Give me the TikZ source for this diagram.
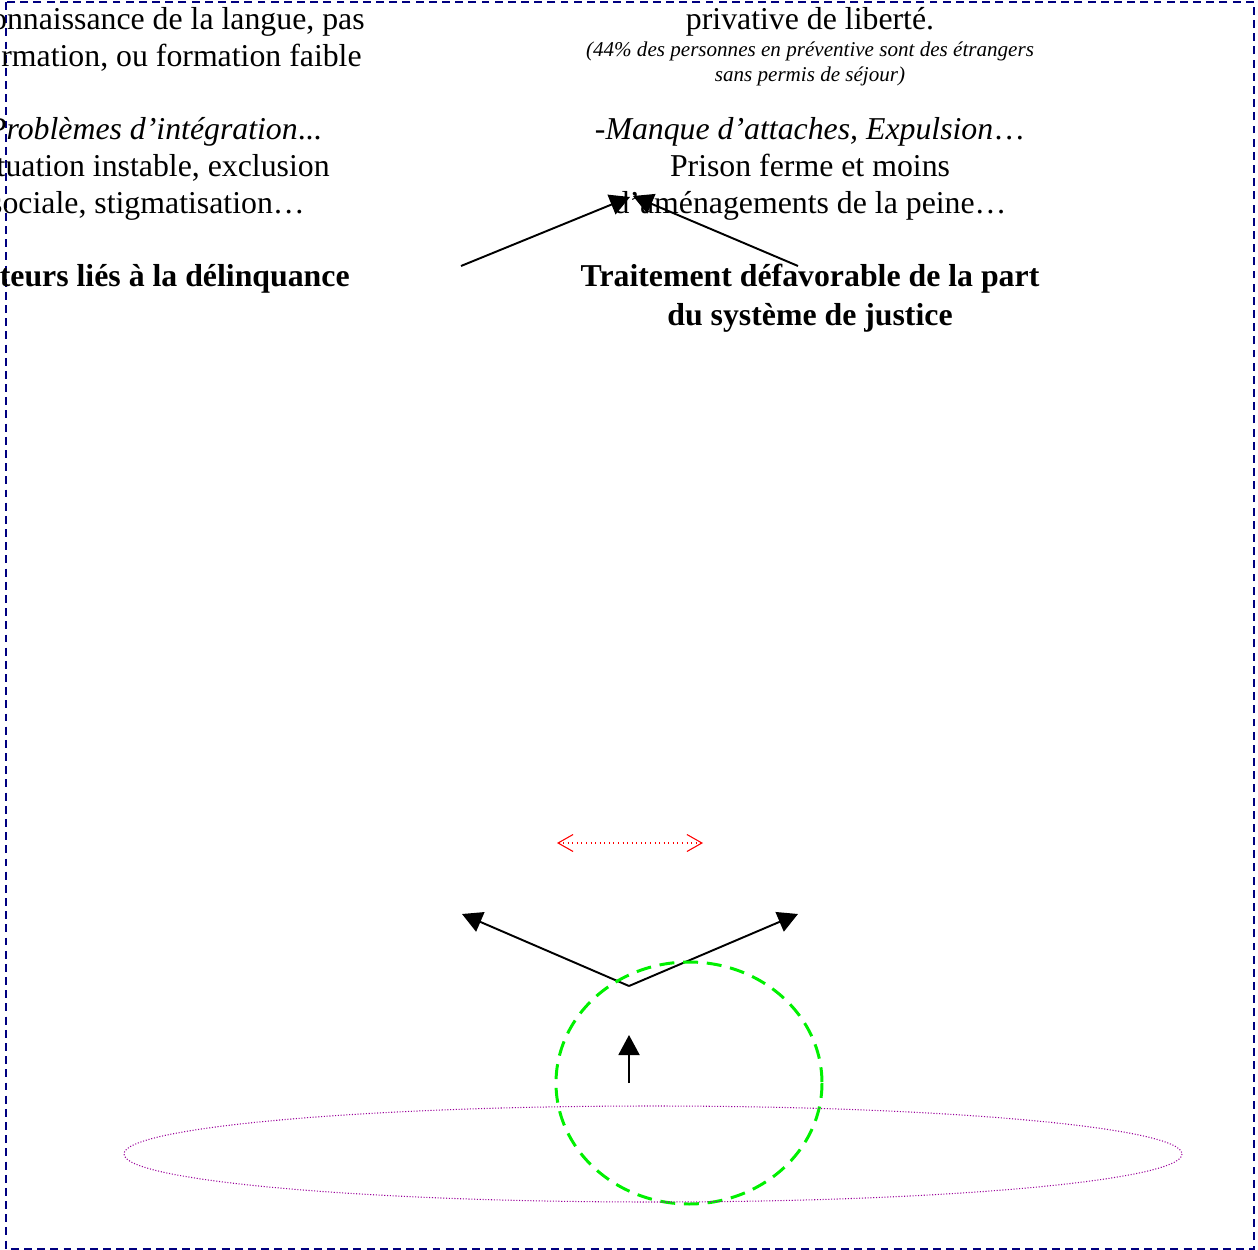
\documentclass[tikz,border=0pt]{standalone}
\usepackage{fontspec}
\setmainfont{Liberation Serif}
\usetikzlibrary{arrows.meta, positioning}
\definecolor{BorderBlue}{RGB}{0,0,128}
\definecolor{RingGreen}{RGB}{0,240,0}
\definecolor{DotPurple}{RGB}{153,0,153}
\definecolor{DotRed}{RGB}{255,0,0}

\begin{document}
\begin{tikzpicture}[x=0.02cm, y=-0.02cm,
	txt/.style={font=\fontsize{18.1}{21}\selectfont, inner sep=0pt, anchor=base},
	txtl/.style={txt, anchor=base east},
	small/.style={font=\fontsize{12}{14}\selectfont\itshape, inner sep=0pt, anchor=base},
	link/.style={line width=1.1pt, -{Triangle[length=4mm,width=4.2mm]}}]
	\useasboundingbox (0,0) rectangle (1258,1250);
	\clip (0,0) rectangle (1258,1250);
	\draw[BorderBlue, line width=1pt, dash pattern=on 4.5pt off 3pt] (6,2) rectangle (1254,1249);

	% left column, cut at the edge
	\node[txtl] (lang) at (365,30) {onnaissance de la langue, pas};
	\node[txtl] (form) at (362,67) {rmation, ou formation faible};
	\node[txtl] (integ) at (322,140) {\textit{Problèmes d’intégration}...};
	\node[txtl] (instab) at (330,177) {tuation instable, exclusion};
	\node[txtl] (stigma) at (305,214) {sociale, stigmatisation…};
	\node[txtl, font=\fontsize{18.1}{21}\selectfont\bfseries] (fact) at (350,287) {teurs liés à la délinquance};

	% right column
	\node[txt] (priv) at (810,30) {privative de liberté.};
	\node[small] (pctA) at (810,57) {(44\% des personnes en préventive sont des étrangers};
	\node[small] (pctB) at (810,82) {sans permis de séjour)};
	\node[txt] (manque) at (810,140) {-\textit{Manque d’attaches, Expulsion}…};
	\node[txt] (prison) at (810,177) {Prison ferme et moins};
	\node[txt] (amenag) at (810,214) {d’aménagements de la peine…};
	\node[txt, font=\fontsize{18.1}{21}\selectfont\bfseries] (traitA) at (810,287) {Traitement défavorable de la part};
	\node[txt, font=\fontsize{18.1}{21}\selectfont\bfseries] (traitB) at (810,325) {du système de justice};

	\coordinate (fromL) at (461,266);
	\coordinate (fromR) at (798,266);
	\coordinate (tipL) at (630,197);
	\coordinate (tipR) at (633,196);
	\draw[link] (fromL) -- (tipL);
	\draw[link] (fromR) -- (tipR);

	\coordinate (red1) at (557,843);
	\coordinate (red2) at (703,843);
	\draw[DotRed, line width=0.6pt, dotted, {Straight Barb[length=3mm,width=3.4mm]}-{Straight Barb[length=3mm,width=3.4mm]}] (red1) -- (red2);

	\coordinate (apex) at (629,986);
	\coordinate (vL) at (462,914);
	\coordinate (vR) at (798,914);
	\draw[link] (apex) -- (vL);
	\draw[link] (apex) -- (vR);

	\coordinate (upA) at (629,1083);
	\coordinate (upB) at (629,1035);
	\draw[link] (upA) -- (upB);

	\draw[RingGreen, line width=1.7pt, dash pattern=on 8.5pt off 5pt] (689,1083) ellipse [x radius=133, y radius=121];
	\draw[DotPurple, line width=0.6pt, densely dotted] (653,1154) ellipse [x radius=529, y radius=48];
\end{tikzpicture}
\end{document}
